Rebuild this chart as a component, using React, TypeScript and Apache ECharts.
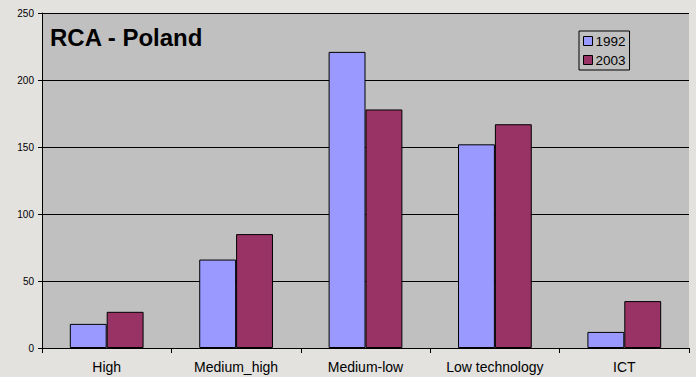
import React, { useEffect, useRef } from "react";
import * as echarts from "echarts";

const categories = ["High", "Medium_high", "Medium-low", "Low technology", "ICT"];
const values1992 = [18, 66, 221, 152, 12];
const values2003 = [27, 85, 178, 167, 35];
const yTicks = { min: 0, max: 250, interval: 50 };
const titleText = "RCA - Poland";

export default function App() {
  const ref = useRef<HTMLDivElement>(null);
  useEffect(() => {
    document.body.style.margin = "0";
    const chart = echarts.init(ref.current!, undefined, { renderer: "svg" });
    const font = "'Liberation Sans', Arial, sans-serif";
    chart.setOption({
      animation: false,
      backgroundColor: "#e3e2df",
      textStyle: { fontFamily: font },
      grid: { left: 42, right: 7, top: 13, bottom: 29, show: true, backgroundColor: "#C0C0C0", borderWidth: 0 },
      graphic: [
        {
          type: "text",
          left: 50,
          top: 25,
          style: { text: titleText, font: `bold 24px ${font}`, fill: "#000" },
        },
      ],
      legend: {
        orient: "vertical",
        left: 579,
        top: 31,
        backgroundColor: "#C0C0C0",
        borderColor: "#000",
        borderWidth: 1,
        padding: [3, 4, 3, 4],
        itemWidth: 9,
        itemHeight: 9,
        itemGap: 5,
        icon: "rect",
        itemStyle: { borderColor: "#000", borderWidth: 1 },
        textStyle: { fontSize: 13.5, color: "#000", padding: [0, 0, 0, -2], fontFamily: font },
        data: ["1992", "2003"],
      },
      xAxis: {
        type: "category",
        data: categories,
        axisLine: { lineStyle: { color: "#000", width: 1 } },
        axisTick: { show: true, length: 5, lineStyle: { color: "#000" } },
        axisLabel: { color: "#000", fontSize: 14, margin: 12, fontFamily: font },
      },
      yAxis: {
        type: "value",
        min: yTicks.min,
        max: yTicks.max,
        interval: yTicks.interval,
        axisLine: { show: true, lineStyle: { color: "#000", width: 1 } },
        axisTick: { show: true, length: 4, lineStyle: { color: "#000" } },
        axisLabel: { color: "#000", fontSize: 10, margin: 8, fontFamily: font },
        splitLine: { show: true, lineStyle: { color: "#000", width: 1 } },
      },
      series: [
        {
          name: "1992",
          type: "bar",
          data: values1992,
          barGap: "0%",
          barCategoryGap: "43%",
          itemStyle: { color: "#9999FF", borderColor: "#000", borderWidth: 1 },
        },
        {
          name: "2003",
          type: "bar",
          data: values2003,
          barGap: "0%",
          barCategoryGap: "43%",
          itemStyle: { color: "#993366", borderColor: "#000", borderWidth: 1 },
        },
      ],
    });
    return () => chart.dispose();
  }, []);
  return <div ref={ref} style={{ width: 696, height: 377 }} />;
}
